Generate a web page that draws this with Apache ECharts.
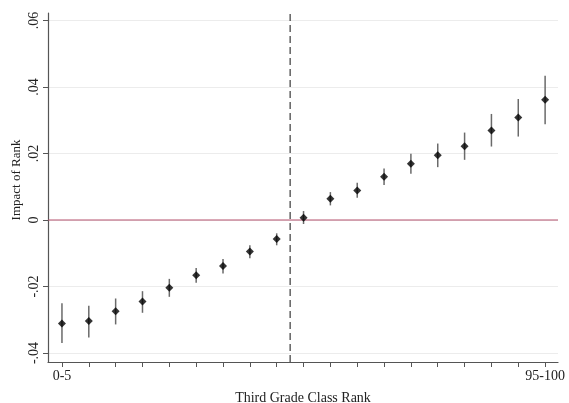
<!DOCTYPE html>
<html><head><meta charset="utf-8">
<script src="https://cdn.jsdelivr.net/npm/echarts@6/dist/echarts.min.js"></script>
<style>html,body{margin:0;padding:0;background:#fff}#c{width:569px;height:403px}</style>
</head><body><div id="c"></div>
<script>
const rankPos = [1,2,3,4,5,6,7,8,9,10,11,12,13,14,15,16,17,18,19];
const estimate = [-0.0311,-0.0304,-0.0274,-0.0245,-0.0204,-0.0166,-0.0138,-0.0095,-0.0057,0.0007,0.0064,0.0089,0.0130,0.0169,0.0195,0.0222,0.0269,0.0308,0.0362];
const ciLow = [-0.0370,-0.0353,-0.0314,-0.0279,-0.0231,-0.0189,-0.0161,-0.0115,-0.0076,-0.0012,0.0044,0.0067,0.0105,0.0139,0.0159,0.0181,0.0221,0.0251,0.0288];
const ciHigh = [-0.0250,-0.0258,-0.0236,-0.0214,-0.0177,-0.0144,-0.0117,-0.0076,-0.0040,0.0027,0.0084,0.0112,0.0155,0.0199,0.0230,0.0263,0.0319,0.0364,0.0434];
const yTicks = [-0.04,-0.02,0,0.02,0.04,0.06];
const yTickLabels = ['-.04','-.02','0','.02','.04','.06'];
const xTickPos = [1,19];
const xTickLabels = ['0-5','95-100'];
const cutoff = 9.5;
const xMin = 0.48, xMax = 19.48, yMin = -0.0427, yMax = 0.06226;
const yTitle = 'Impact of Rank';
const xTitle = 'Third Grade Class Rank';

const font = 'Liberation Serif';
const chart = echarts.init(document.getElementById('c'), null, {renderer:'canvas'});
chart.setOption({
  animation:false,
  backgroundColor:'#fff',
  grid:{left:48,right:11,top:13,bottom:41,containLabel:false,outerBoundsMode:'none'},
  graphic:[{
    type:'text', x:17, y:180, rotation:Math.PI/2,
    style:{text:yTitle, fontFamily:font, fontSize:13, fill:'#222', align:'center', verticalAlign:'middle'}
  }],
  xAxis:{
    type:'value', min:xMin, max:xMax,
    name:xTitle, nameLocation:'middle', nameGap:29,
    nameTextStyle:{fontFamily:font,fontSize:14,color:'#222'},
    axisLine:{show:true,onZero:false,lineStyle:{color:'#555',width:1.2}},
    axisTick:{show:true,length:5,lineStyle:{color:'#555'},customValues:rankPos},
    axisLabel:{customValues:xTickPos,fontFamily:font,fontSize:14,color:'#222',margin:7,
      formatter:v=>{const i=xTickPos.indexOf(Math.round(v));return i>=0?xTickLabels[i]:'';}},
    splitLine:{show:false}
  },
  yAxis:{
    type:'value', min:yMin, max:yMax,
    axisLine:{show:true,onZero:false,lineStyle:{color:'#555',width:1.2}},
    axisTick:{show:true,length:5,lineStyle:{color:'#555'},customValues:yTicks},
    axisLabel:{customValues:yTicks,rotate:90,fontFamily:font,fontSize:14,color:'#222',margin:7,
      formatter:v=>{let bi=0;yTicks.forEach((t,i)=>{if(Math.abs(t-v)<Math.abs(yTicks[bi]-v))bi=i;});return yTickLabels[bi];}},
    splitLine:{show:true,lineStyle:{color:'#ececec',width:1.2}}
  },
  series:[
    {
      type:'line', data:[[xMin,0],[xMax,0]], symbol:'none', silent:true,
      lineStyle:{color:'#b5536e',width:1.2}, z:2
    },
    {
      type:'line', data:[[cutoff,yMin],[cutoff,yMax]], symbol:'none', silent:true,
      lineStyle:{color:'#111',width:1,type:[7,4]}, z:2
    },
    {
      type:'custom',
      data:rankPos.map((x,i)=>[x,ciLow[i],ciHigh[i]]),
      renderItem:(params,api)=>{
        const p1=api.coord([api.value(0),api.value(1)]);
        const p2=api.coord([api.value(0),api.value(2)]);
        return {type:'line',shape:{x1:p1[0],y1:p1[1],x2:p2[0],y2:p2[1]},style:{stroke:'#6a6a6a',lineWidth:1.5}};
      },
      z:3
    },
    {
      type:'scatter',
      data:rankPos.map((x,i)=>[x,estimate[i]]),
      symbol:'diamond', symbolSize:8,
      itemStyle:{color:'#000'},
      z:5
    }
  ]
});
</script></body></html>
